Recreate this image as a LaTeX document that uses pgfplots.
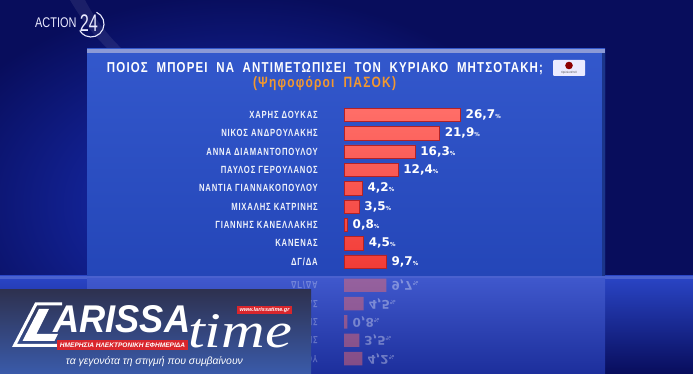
\documentclass[border=0pt]{standalone}
\usepackage{fontspec}
\setmainfont{DejaVu Sans}
\newfontfamily\labfont{Liberation Sans}[FakeStretch=0.74, LetterSpace=8]
\newfontfamily\titfont{Liberation Sans}[FakeStretch=0.8, LetterSpace=8]
\newfontfamily\valfont{DejaVu Sans}
\newfontfamily\logofont{Liberation Sans}
\newfontfamily\serifont{Liberation Serif}[FakeStretch=0.8]
\usepackage{pgfplots}
\pgfplotsset{compat=1.18}
\definecolor{bgnavy}{HTML}{080D5C}
\definecolor{bgblue}{HTML}{1B34C4}
\definecolor{paneltop}{HTML}{3358CC}
\definecolor{panelbot}{HTML}{2446B8}
\definecolor{panelstrip}{HTML}{8C9AD6}
\definecolor{barTop}{HTML}{FF6E68}
\definecolor{barBot}{HTML}{F23C37}
\definecolor{barEdge}{HTML}{B22226}
\definecolor{suborange}{HTML}{F3982E}
\definecolor{labwhite}{HTML}{EEF1FA}
\definecolor{ovtop}{HTML}{2E3150}
\definecolor{ovbot}{HTML}{3A5BAA}
\definecolor{ltred}{HTML}{D9262C}
\definecolor{floor}{HTML}{2A45C6}
\begin{document}
\begin{tikzpicture}[x=1pt,y=1pt]
\useasboundingbox (0,0) rectangle (693,374);
% background
\fill[bgnavy] (0,0) rectangle (693,374);
\shade[inner color=bgblue, outer color=bgnavy] (-80,-40) rectangle (560,380);
\fill[white, opacity=0.08] (70,374) .. controls (90,340) and (110,320) .. (140,300) -- (150,300) .. controls (120,325) and (100,345) .. (85,374) -- cycle;
% floor band and reflection area
\shade[top color=floor, bottom color=bgnavy] (0,0) rectangle (693,98);
\fill[floor!85!white] (0,95) rectangle (693,98);
\shade[top color=floor!90!white, bottom color=floor!60!bgnavy] (87,0) rectangle (605,95);
% panel
\shade[top color=paneltop, bottom color=panelbot] (87,98) rectangle (605,325);
\fill[panelstrip] (87,321) rectangle (605,325);
\fill[panelbot!75!black] (602,98) rectangle (605,321);
% title
\node[text=white, inner sep=0pt] at (325,305)
  {\resizebox{436pt}{!}{\titfont\bfseries ΠΟΙΟΣ\ \ ΜΠΟΡΕΙ\ \ ΝΑ\ \ ΑΝΤΙΜΕΤΩΠΙΣΕΙ\ \ ΤΟΝ\ \ ΚΥΡΙΑΚΟ\ \ ΜΗΤΣΟΤΑΚΗ;}};
\node[text=suborange, inner sep=0pt] at (324.5,290.5)
  {\resizebox{143pt}{!}{\titfont\bfseries (Ψηφοφόροι\ \ ΠΑΣΟΚ)}};
% OpinionPoll logo
\fill[white!92!blue, rounded corners=1pt] (553,298) rectangle (585,314);
\fill[red!55!black] (569,308.5) circle (3.8);
\node[inner sep=0pt, text=black!70, font=\logofont\fontsize{3}{3}\selectfont] at (569,301.5) {OpinionPoll};
% ACTION 24 logo
\node[text=white!92!blue, inner sep=0pt, anchor=west, font=\logofont\fontsize{14}{14}\selectfont] at (35,351) {\scalebox{0.78}[1]{ACTION}};
\node[text=white!92!blue, inner sep=0pt, anchor=center, font=\logofont\fontsize{24}{24}\selectfont] at (89,350.5) {\scalebox{0.68}[1]{24}};
\draw[white!92!blue, line width=1.1pt] (91,350) ++(65:13) arc (65:-150:13);
% chart
\begin{axis}[
  at={(344pt,103.2pt)}, anchor=south west,
  scale only axis, width=130.9pt, height=165pt,
  xmin=0, xmax=30, ymin=-0.5, ymax=8.5, y dir=reverse,
  axis line style={draw=none}, tick style={draw=none},
  major tick length=0pt,
  xtick=\empty, ytick={0,...,8},
  yticklabels={ΧΑΡΗΣ ΔΟΥΚΑΣ, ΝΙΚΟΣ ΑΝΔΡΟΥΛΑΚΗΣ, ΑΝΝΑ ΔΙΑΜΑΝΤΟΠΟΥΛΟΥ, ΠΑΥΛΟΣ ΓΕΡΟΥΛΑΝΟΣ, ΝΑΝΤΙΑ ΓΙΑΝΝΑΚΟΠΟΥΛΟΥ, ΜΙΧΑΛΗΣ ΚΑΤΡΙΝΗΣ, ΓΙΑΝΝΗΣ ΚΑΝΕΛΛΑΚΗΣ, ΚΑΝΕΝΑΣ, ΔΓ/ΔΑ},
  yticklabel style={font=\labfont\bfseries\fontsize{10.4}{11}\selectfont, text=labwhite, anchor=east, inner sep=0pt, xshift=-26pt},
  xbar, bar width=13.4pt,
  clip=false,
  nodes near coords={\pgfmathprintnumber[use comma, fixed, fixed zerofill, precision=1, assume math mode=true]{\pgfplotspointmeta}{\fontsize{5.5}{6}\selectfont\%}},
  every node near coord/.append style={font=\valfont\bfseries\fontsize{12}{12}\selectfont, text=white, anchor=west, inner sep=0pt, xshift=5pt},
]
\addplot[draw=barEdge, line width=0.4pt, top color=barTop, bottom color=barBot]
  coordinates {(26.7,0) (21.9,1) (16.3,2) (12.4,3) (4.2,4) (3.5,5) (0.8,6) (4.5,7) (9.7,8)};
\end{axis}
% reflection of the chart on the floor
\begin{scope}
\clip (87,4) rectangle (605,95);
\begin{axis}[
  at={(344pt,-67.1pt)}, anchor=south west,
  scale only axis, width=130.9pt, height=165pt,
  xmin=0, xmax=30, ymin=-0.5, ymax=8.5,
  axis line style={draw=none}, tick style={draw=none},
  major tick length=0pt,
  xtick=\empty, ytick={4,...,8},
  yticklabels={ΝΑΝΤΙΑ ΓΙΑΝΝΑΚΟΠΟΥΛΟΥ, ΜΙΧΑΛΗΣ ΚΑΤΡΙΝΗΣ, ΓΙΑΝΝΗΣ ΚΑΝΕΛΛΑΚΗΣ, ΚΑΝΕΝΑΣ, ΔΓ/ΔΑ},
  yticklabel style={font=\labfont\bfseries\fontsize{10.4}{11}\selectfont, text=labwhite, text opacity=0.3, anchor=east, inner sep=0pt, xshift=-26pt, yscale=-1},
  xbar, bar width=13.4pt,
  clip=false,
  nodes near coords={\pgfmathprintnumber[use comma, fixed, fixed zerofill, precision=1, assume math mode=true]{\pgfplotspointmeta}{\fontsize{5.5}{6}\selectfont\%}},
  every node near coord/.append style={font=\valfont\bfseries\fontsize{12}{12}\selectfont, text=white, text opacity=0.35, anchor=west, inner sep=0pt, xshift=5pt, yscale=-1},
]
\addplot[draw=none, fill=barTop, fill opacity=0.45]
  coordinates {(4.2,4) (3.5,5) (0.8,6) (4.5,7) (9.7,8)};
\end{axis}
\end{scope}
% LARISSA time overlay
\shade[top color=ovtop, bottom color=ovbot] (0,0) rectangle (311,84);
% L logo: slanted frame with an L inside
\draw[white, line width=3pt, line join=miter] (57,28.5) -- (14.5,28.5) -- (36,70) -- (62,70);
\fill[white] (39,65) -- (49,65) -- (36.5,40) -- (58,40) -- (54.5,33) -- (22.5,33) -- cycle;
\node[text=white, inner sep=0pt, anchor=south west] at (53,41)
  {\resizebox{137pt}{27pt}{\logofont\bfseries\itshape ARISSA}};
\node[text=white, inner sep=0pt, anchor=south west] at (188,26)
  {\resizebox{104pt}{33pt}{\serifont\itshape time}};
\fill[ltred] (237,60) rectangle (292,68);
\node[text=white, inner sep=0pt] at (264.5,64)
  {\resizebox{50pt}{!}{\logofont\bfseries\itshape www.larissatime.gr}};
\fill[ltred] (57,24) rectangle (188,34);
\node[text=white, inner sep=0pt] at (122.5,29)
  {\resizebox{125pt}{!}{\logofont\bfseries\itshape ΗΜΕΡΗΣΙΑ ΗΛΕΚΤΡΟΝΙΚΗ ΕΦΗΜΕΡΙΔΑ}};
\node[text=white, inner sep=0pt] at (154.5,12)
  {\resizebox{177pt}{!}{\logofont\itshape τα γεγονότα τη στιγμή που συμβαίνουν}};
\end{tikzpicture}
\end{document}
